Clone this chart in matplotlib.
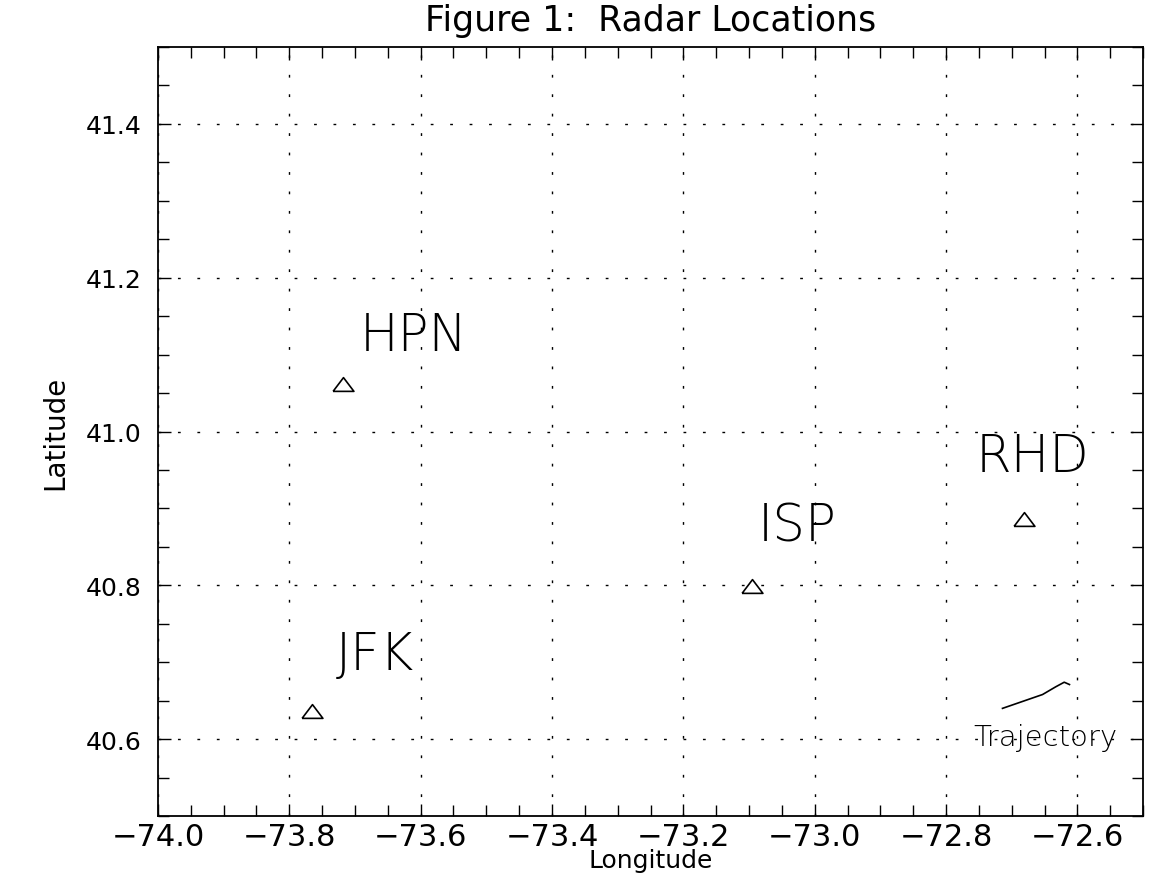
import matplotlib
matplotlib.use("Agg")
import matplotlib.pyplot as plt
import numpy as np
from matplotlib.ticker import MultipleLocator

plt.rcParams['font.family'] = ['DejaVu Sans']

# radar sites
names = ["HPN", "JFK", "ISP", "RHD"]
lons = [-73.718, -73.766, -73.096, -72.681]
lats = [41.062, 40.637, 40.799, 40.886]
# label positions
lab_lons = [-73.61, -73.67, -73.026, -72.669]
lab_lats = [41.125, 40.71, 40.877, 40.967]

# trajectory
traj_lon = [-72.714, -72.653, -72.633, -72.620, -72.612]
traj_lat = [40.640, 40.658, 40.668, 40.674, 40.671]

fig = plt.figure(figsize=(11.49, 8.79), dpi=100)
ax = fig.add_axes([0.1375, 0.0705, 0.8573, 0.8749])

tri = [(-1, -0.66), (1, -0.66), (0, 0.66), (-1, -0.66)]
ax.plot(lons, lats, linestyle='none', marker=tri, markersize=15,
        markerfacecolor='none', markeredgecolor='black', markeredgewidth=1.2)
for n, x, y in zip(names, lab_lons, lab_lats):
    ax.text(x, y, n, fontsize=37, ha='center', va='center', fontweight='ultralight')

ax.plot(traj_lon, traj_lat, color='black', lw=1.2)
ax.text(-72.649, 40.603, "Trajectory", fontsize=21, ha='center', va='center',
        fontweight='ultralight')

ax.set_xlim(-74.0, -72.5)
ax.set_ylim(40.5, 41.5)
ax.xaxis.set_minor_locator(MultipleLocator(0.05))
ax.yaxis.set_minor_locator(MultipleLocator(0.05))
xt = np.arange(-74.0, -72.55, 0.2)
yt = np.arange(40.6, 41.45, 0.2)
ax.set_xticks(xt)
ax.set_yticks(yt)
ax.set_xticklabels([f"{v:.1f}".replace('-', '\u2212') for v in xt])
ax.set_yticklabels([f"{v:.1f}" for v in yt])

ax.tick_params(which='both', direction='in', top=True, right=True, width=1, color='black')
ax.tick_params(which='major', length=9)
ax.tick_params(which='minor', length=8)
ax.tick_params(axis='x', labelsize=22, pad=4)
ax.tick_params(axis='y', labelsize=18, pad=12)

ax.grid(True, which='major', color='black', linestyle=(0, (2, 12)), linewidth=1)
for s in ax.spines.values():
    s.set_linewidth(1.3)

ax.set_title("Figure 1:  Radar Locations", fontsize=25, pad=12)
ax.set_xlabel("Longitude", fontsize=18, labelpad=-2)
ax.set_ylabel("Latitude", fontsize=20, labelpad=12)

fig.savefig("out.png", dpi=100)
